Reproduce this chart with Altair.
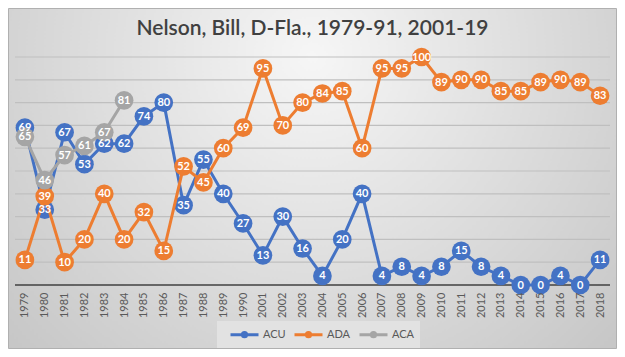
import altair as alt
import pandas as pd

years = ["1979", "1980", "1981", "1982", "1983", "1984", "1985", "1986", "1987", "1988",
         "1989", "1990", "2001", "2002", "2003", "2004", "2005", "2006", "2007", "2008",
         "2009", "2010", "2011", "2012", "2013", "2014", "2015", "2016", "2017", "2018"]
acu = [69, 33, 67, 53, 62, 62, 74, 80, 35, 55, 40, 27, 13, 30, 16, 4, 20, 40, 4, 8,
       4, 8, 15, 8, 4, 0, 0, 4, 0, 11]
ada = [11, 39, 10, 20, 40, 20, 32, 15, 52, 45, 60, 69, 95, 70, 80, 84, 85, 60, 95, 95,
       100, 89, 90, 90, 85, 85, 89, 90, 89, 83]
aca = [65, 46, 57, 61, 67, 81]
grid_values = [10, 20, 30, 40, 50, 60, 70, 80, 90, 100]

series_names = ["ACU", "ADA", "ACA"]
series_colors = ["#4472C4", "#ED7D31", "#A5A5A5"]
series_values = [acu, ada, aca]

rows = []
for name, vals in zip(series_names, series_values):
    for i, v in enumerate(vals):
        rows.append({"year": years[i], "idx": i, "series": name, "value": v})
df = pd.DataFrame(rows)

FONT = "Lato"
W, H = 595, 228
PAD_L, PAD_T, PAD_R, PAD_B = 7, 49, 7, 64

x_enc = alt.X("year:O", sort=years,
              scale=alt.Scale(type="point", padding=0.5, domain=years),
              axis=alt.Axis(title=None, labelAngle=-90, ticks=False, labelPadding=7,
                            labelFont=FONT, labelFontSize=11, labelColor="#595959",
                            domain=False, grid=False, zindex=1))
y_scale = alt.Scale(domain=[0, 100], nice=False, zero=True)
y_enc = alt.Y("value:Q", scale=y_scale, axis=None)

bg = alt.Chart(pd.DataFrame({"a": [0]})).mark_rect(
    color=alt.RadialGradient(gradient="radial", x1=0.5, y1=0.3, x2=0.5, y2=0.3, r1=0, r2=0.75,
                             stops=[alt.GradientStop(offset=0, color="#f6f6f6"),
                                    alt.GradientStop(offset=1, color="#c2c2c2")]),
    stroke="#b0b0b0", strokeWidth=1
).encode(x=alt.value(-PAD_L + 0.5), x2=alt.value(W + PAD_R - 0.5),
         y=alt.value(-PAD_T + 0.5), y2=alt.value(H + PAD_B - 0.5))

grid = alt.Chart(pd.DataFrame({"g": grid_values})).mark_rule(
    color="#bfbfbf", strokeWidth=1.2
).encode(y=alt.Y("g:Q", scale=y_scale, axis=None), x=alt.value(0), x2=alt.value(W))

base_line = alt.Chart(pd.DataFrame({"g": [0]})).mark_rule(
    color="#404040", strokeWidth=1.5
).encode(y=alt.Y("g:Q", scale=y_scale, axis=None), x=alt.value(0), x2=alt.value(W))

legend_path = ("M0,0L4,0M2.3,0A0.3,0.3,0,1,1,1.7,0A0.3,0.3,0,1,1,2.3,0Z")

layers = [bg, grid, base_line]
texts = []
for k, (name, col) in enumerate(zip(series_names, series_colors)):
    base = alt.Chart(df).transform_filter(alt.datum.series == name)
    if k == 0:
        color = alt.Color("series:N",
                          scale=alt.Scale(domain=series_names, range=series_colors),
                          legend=alt.Legend(title=None, orient="none", legendX=202, legendY=264,
                                            direction="horizontal", fillColor="#e2e2e2",
                                            padding=5, symbolType=legend_path, symbolSize=196,
                                            symbolStrokeWidth=3, labelFont=FONT, labelFontSize=11,
                                            labelColor="#595959", columnPadding=-5,
                                            labelOffset=24, zindex=1))
    else:
        color = alt.value(col)
    line = base.mark_line(strokeWidth=3).encode(x=x_enc, y=y_enc, color=color,
                                                 order=alt.Order("idx:Q"))
    pts = base.mark_circle(size=350, opacity=1, color=col).encode(x=x_enc, y=y_enc)
    txt = base.mark_text(color="white", font=FONT, fontSize=11, fontWeight="bold",
                         baseline="middle", dy=0.5).encode(x=x_enc, y=y_enc, text="value:Q")
    layers += [line, pts]
    texts.append(txt)
layers += texts

chart = alt.layer(*layers).properties(
    width=W, height=H,
    padding={"left": PAD_L, "top": PAD_T, "right": PAD_R, "bottom": PAD_B},
    autosize=alt.AutoSizeParams(type="none"),
    title=alt.TitleParams(text="Nelson, Bill, D-Fla., 1979-91, 2001-19", fontSize=21,
                          font=FONT, fontWeight=600, color="#404040", anchor="middle",
                          offset=-31, zindex=1),
).configure_view(strokeWidth=0)

chart.save("out.html", embed_options={"renderer": "svg", "actions": False})
